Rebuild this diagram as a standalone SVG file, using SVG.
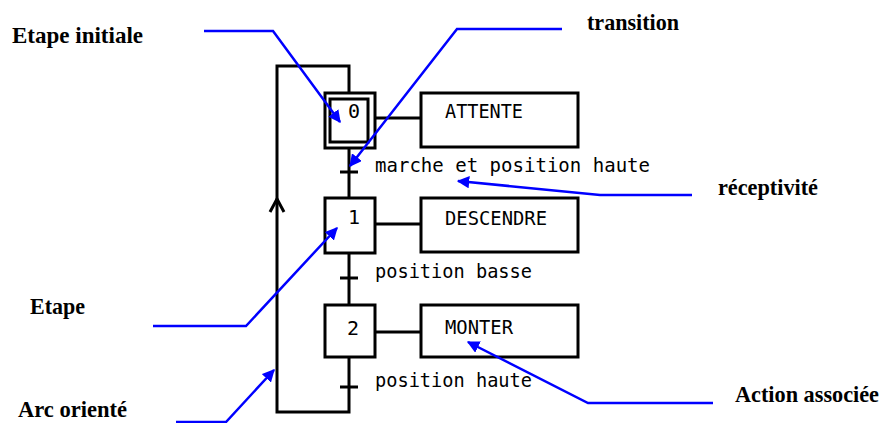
<svg xmlns="http://www.w3.org/2000/svg" width="889" height="423" viewBox="0 0 889 423">
<style>
.k{fill:none;stroke:#000;stroke-width:3}
.box{fill:#fff;stroke:#000;stroke-width:3}
.b{fill:none;stroke:#0000ff;stroke-width:2.5;marker-end:url(#ah)}
.lab{font-family:"Liberation Serif",serif;font-weight:bold;font-size:24px;fill:#000}
.m{font-family:"DejaVu Sans Mono","Liberation Mono",monospace;font-size:20px;fill:#000}
</style>
<defs>
<marker id="ah" viewBox="0 0 10 10" refX="9" refY="5" markerWidth="5" markerHeight="5" orient="auto" markerUnits="strokeWidth">
<path d="M0,0 L10,5 L0,10 z" fill="#0000ff"/>
</marker>
</defs>
<rect width="889" height="423" fill="#fff"/>
<g id="connectors">
<polyline class="k" points="349,93 349,66 277,66 277,412 349,412 349,357"/>
<polyline class="k" points="270,212 277,199 284,212"/>
<line class="k" x1="349" y1="148" x2="349" y2="198"/>
<line class="k" x1="340" y1="172" x2="358" y2="172"/>
<line class="k" x1="349" y1="253" x2="349" y2="305"/>
<line class="k" x1="340" y1="278" x2="358" y2="278"/>
<line class="k" x1="340" y1="387" x2="358" y2="387"/>
<line class="k" x1="375" y1="118" x2="421" y2="118"/>
<line class="k" x1="375" y1="224" x2="421" y2="224"/>
<line class="k" x1="375" y1="332" x2="421" y2="332"/>
</g>
<g id="step0">
<rect class="box" x="325" y="93" width="50" height="55"/>
<rect class="box" x="330" y="99" width="38" height="43"/>
<text class="m" x="348" y="118">0</text>
</g>
<g id="action0">
<rect class="box" x="421" y="93" width="157" height="54"/>
<text class="m" x="445" y="118" textLength="78" lengthAdjust="spacingAndGlyphs">ATTENTE</text>
</g>
<g id="step1">
<rect class="box" x="325" y="198" width="50" height="55"/>
<text class="m" x="348" y="224">1</text>
</g>
<g id="action1">
<rect class="box" x="421" y="198" width="157" height="54"/>
<text class="m" x="445" y="225" textLength="102" lengthAdjust="spacingAndGlyphs">DESCENDRE</text>
</g>
<g id="step2">
<rect class="box" x="325" y="305" width="50" height="52"/>
<text class="m" x="347" y="335">2</text>
</g>
<g id="action2">
<rect class="box" x="421" y="305" width="157" height="52"/>
<text class="m" x="445" y="334" textLength="68" lengthAdjust="spacingAndGlyphs">MONTER</text>
</g>
<g id="receptivities">
<text class="m" x="375" y="172" textLength="275" lengthAdjust="spacingAndGlyphs">marche et position haute</text>
<text class="m" x="375" y="278" textLength="157" lengthAdjust="spacingAndGlyphs">position basse</text>
<text class="m" x="375" y="387" textLength="157" lengthAdjust="spacingAndGlyphs">position haute</text>
</g>
<g id="annotations">
<polyline class="b" points="204,31 273,31 340,122"/>
<polyline class="b" points="562,29 457,29 350,166"/>
<polyline class="b" points="692,195 600,195 458,181"/>
<polyline class="b" points="153,326 246,326 337,228"/>
<polyline class="b" points="176,422 226,422 274,370"/>
<polyline class="b" points="713,403 588,403 468,342"/>
<text class="lab" x="12" y="43" textLength="131" lengthAdjust="spacingAndGlyphs">Etape initiale</text>
<text class="lab" x="587" y="30" textLength="92" lengthAdjust="spacingAndGlyphs">transition</text>
<text class="lab" x="718" y="195" textLength="100" lengthAdjust="spacingAndGlyphs">réceptivité</text>
<text class="lab" x="30" y="314" textLength="55" lengthAdjust="spacingAndGlyphs">Etape</text>
<text class="lab" x="18" y="417" font-size="22" textLength="109" lengthAdjust="spacingAndGlyphs">Arc orienté</text>
<text class="lab" x="735" y="402" font-size="22" textLength="144" lengthAdjust="spacingAndGlyphs">Action associée</text>
</g>
</svg>
